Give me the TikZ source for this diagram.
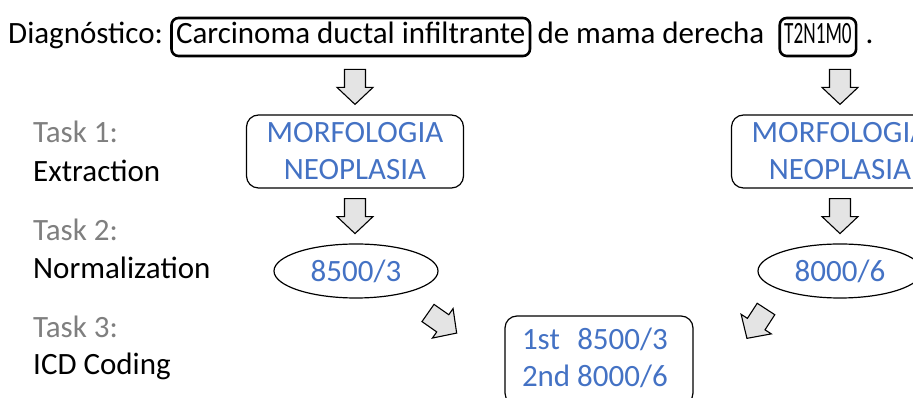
\documentclass[tikz,border=0pt]{standalone}
\usepackage{fontspec}
\setmainfont{Carlito}
\usepackage{graphicx}
\usetikzlibrary{positioning,shapes.geometric,calc}
\definecolor{codeblue}{RGB}{68,114,196}
\definecolor{taskgray}{RGB}{127,127,127}
\definecolor{arrowgray}{RGB}{228,228,228}
\tikzset{
  txt/.style={inner sep=0pt, font=\fontsize{31}{37}\selectfont},
  spanbox/.style={txt, draw, line width=2.6pt, rounded corners=7pt,
    inner xsep=4.5pt, inner ysep=5pt, text height=21pt, text depth=7pt},
  entbox/.style={txt, draw, line width=1.2pt, rounded corners=12pt,
    minimum width=217pt, minimum height=73pt, align=center, text=codeblue},
  normnode/.style={txt, draw, ellipse, line width=1.2pt,
    minimum width=164pt, minimum height=54pt, text=codeblue},
  rankbox/.style={txt, draw, line width=1.2pt, rounded corners=12pt,
    minimum height=89pt, inner xsep=17pt, text width=154pt, text=codeblue},
  tasknum/.style={txt, anchor=base west, text=taskgray},
  taskname/.style={txt, anchor=base west},
  arrowshape/.style={draw, line width=1.1pt, fill=arrowgray, line join=miter},
  blockarrow/.pic={
    \path[arrowshape] (0,-10.5) -- (18,-10.5) -- (18,-18) -- (35,0)
      -- (18,18) -- (18,10.5) -- (0,10.5) -- cycle;
  }
}

\begin{document}
\begin{tikzpicture}[x=1pt, y=1pt]
  \clip (0,0) rectangle (913,398);

  % sentence
  \node[txt, anchor=base west] (diag) at (8,354) {Diagnóstico:};
  \node[spanbox, base right=7pt of diag] (carc) {Carcinoma ductal infiltrante};
  \node[txt, base right=6pt of carc] (mama) {de mama derecha};
  \node[spanbox, base right=14pt of mama] (tnm) {\scalebox{0.62}[1]{T2N1M0}};
  \node[txt, base right=8pt of tnm] (stop) {.};

  % tasks
  \node[tasknum] (t1) at (33,255) {Task 1:};
  \node[taskname] (t1name) at (33,216) {Extraction};
  \node[tasknum] (t2) at (33,157) {Task 2:};
  \node[taskname] (t2name) at (33,119) {Normalization};
  \node[tasknum] (t3) at (33,60) {Task 3:};
  \node[taskname] (t3name) at (33,23) {ICD Coding};

  % columns
  \node[entbox] (morf1) at (355,246.5) {MORFOLOGIA\\NEOPLASIA};
  \node[entbox] (morf2) at (840,246.5) {MORFOLOGIA\\NEOPLASIA};
  \node[normnode] (norm1) at (356,127) {8500/3};
  \node[normnode] (norm2) at (840,127) {8000/6};
  \node[rankbox] (rank) at (599,37.5) {%
    \noindent\begin{tabular}{@{}l@{\hspace{7pt}}l@{}}1st & 8500/3\\2nd & 8000/6\end{tabular}};

  % block arrows
  \pic[rotate=-90] at ([yshift=45pt]morf1.north) {blockarrow};
  \pic[rotate=-90] at ([yshift=45pt]morf2.north) {blockarrow};
  \pic[rotate=-90] at ([yshift=-10pt]morf1.south) {blockarrow};
  \pic[rotate=-90] at ([yshift=-10pt]morf2.south) {blockarrow};
  \pic[rotate=-35] at ($(norm1.center)+(72,-42)$) {blockarrow};
  \pic[rotate=-123] at ($(norm2.center)+(-74,-38)$) {blockarrow};
\end{tikzpicture}
\end{document}
